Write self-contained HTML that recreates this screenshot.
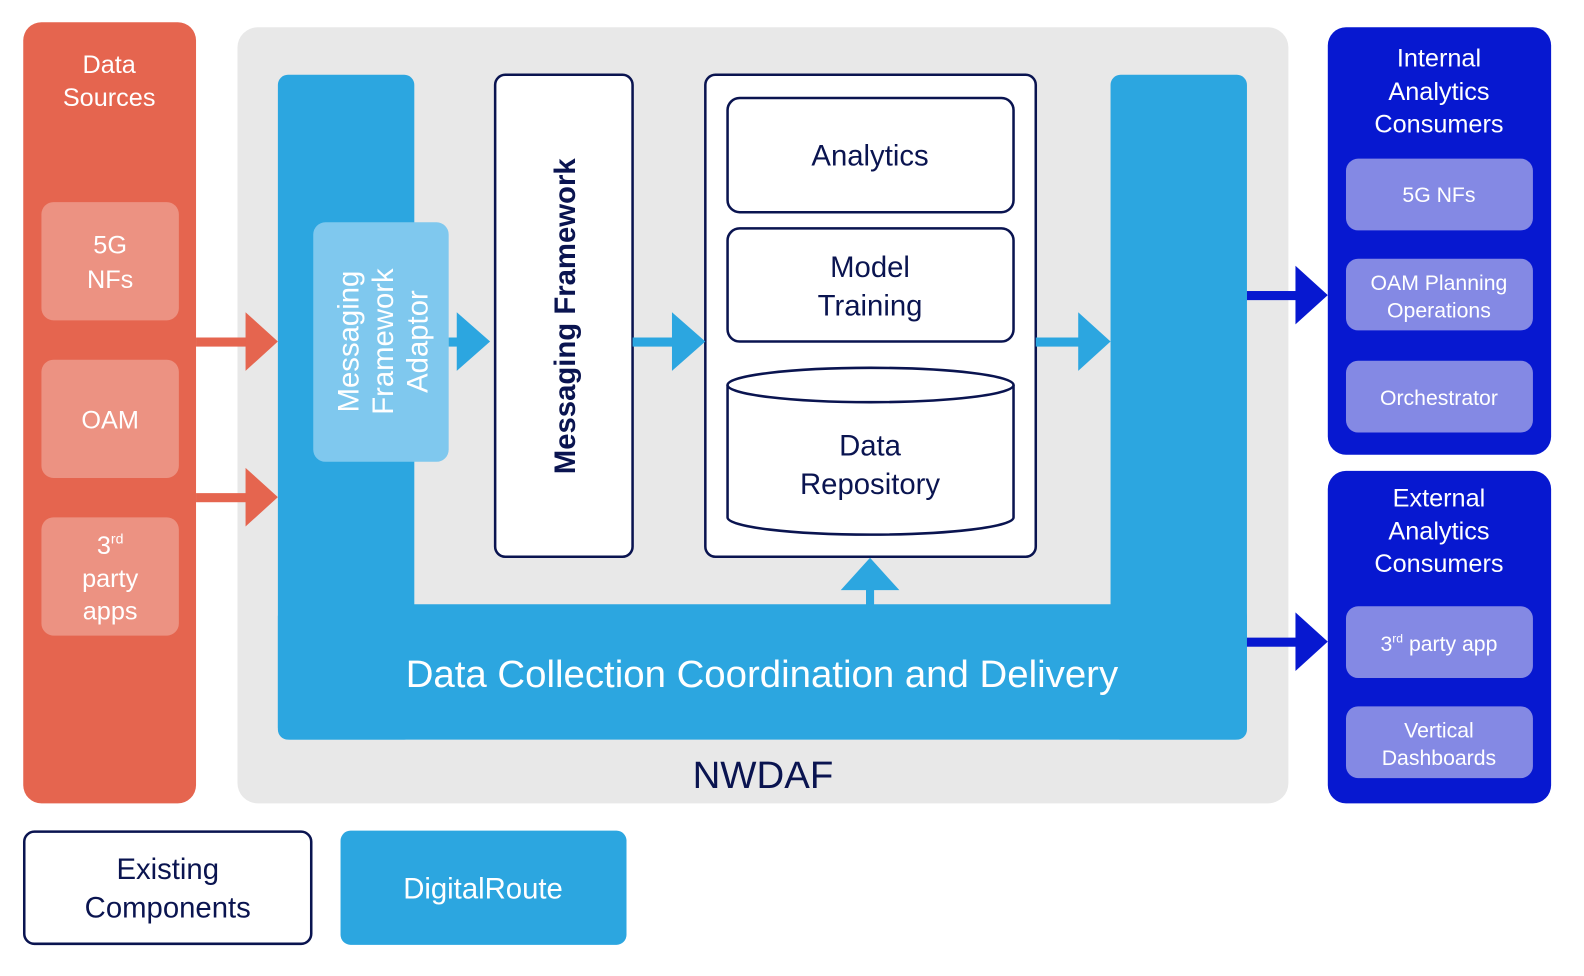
<!DOCTYPE html>
<html><head><meta charset="utf-8"><style>
html,body{margin:0;padding:0;background:#fff;overflow:hidden;}
svg{display:block;font-family:"Liberation Sans",sans-serif;}
</style></head><body>
<svg width="1584" height="976" viewBox="0 0 1584 976" xmlns="http://www.w3.org/2000/svg">
<g transform="scale(1.0105)">
<!-- Data sources -->
<rect x="23" y="22" width="171" height="773" rx="18" fill="#E5654F"/>
<text x="108" y="72" font-size="25" fill="#fff" text-anchor="middle">Data</text>
<text x="108" y="105" font-size="25" fill="#fff" text-anchor="middle">Sources</text>
<g fill="#EC9282">
<rect x="41" y="200" width="136" height="117" rx="12"/>
<rect x="41" y="356" width="136" height="117" rx="12"/>
<rect x="41" y="512" width="136" height="117" rx="12"/>
</g>
<g fill="#fff" font-size="25" text-anchor="middle">
<text x="109" y="251">5G</text><text x="109" y="285">NFs</text>
<text x="109" y="424">OAM</text>
<text x="109" y="548">3<tspan font-size="14" dy="-10">rd</tspan></text>
<text x="109" y="581">party</text><text x="109" y="613">apps</text>
</g>
<!-- NWDAF gray -->
<rect x="235" y="27" width="1040" height="768" rx="20" fill="#E8E8E8"/>
<text x="755" y="780" font-size="38" fill="#0A1450" text-anchor="middle">NWDAF</text>
<!-- blue U -->
<g fill="#2CA6E0">
<rect x="275" y="74" width="135" height="658" rx="10"/>
<rect x="1099" y="74" width="135" height="658" rx="10"/>
<rect x="275" y="598" width="959" height="134" rx="12"/>
</g>
<text x="754" y="680" font-size="38" fill="#fff" text-anchor="middle">Data Collection Coordination and Delivery</text>
<!-- adaptor -->
<rect x="310" y="220" width="134" height="237" rx="12" fill="#7FC8EE"/>
<g transform="translate(377,338) rotate(-90)" font-size="29" fill="#fff" text-anchor="middle">
<text x="0" y="-22">Messaging</text>
<text x="0" y="12">Framework</text>
<text x="0" y="46">Adaptor</text>
</g>
<!-- messaging framework -->
<rect x="490" y="74" width="136" height="477" rx="10" fill="#fff" stroke="#0A1450" stroke-width="2.5"/>
<text transform="translate(569,313) rotate(-90)" font-size="29" font-weight="bold" fill="#0A1450" text-anchor="middle">Messaging Framework</text>
<!-- analytics container -->
<rect x="698" y="74" width="327" height="477" rx="10" fill="#fff" stroke="#0A1450" stroke-width="2.5"/>
<rect x="720" y="97" width="283" height="113" rx="12" fill="#fff" stroke="#0A1450" stroke-width="2.5"/>
<text x="861" y="164" font-size="29" fill="#0A1450" text-anchor="middle">Analytics</text>
<rect x="720" y="226" width="283" height="112" rx="12" fill="#fff" stroke="#0A1450" stroke-width="2.5"/>
<text x="861" y="274" font-size="29" fill="#0A1450" text-anchor="middle">Model</text>
<text x="861" y="312" font-size="29" fill="#0A1450" text-anchor="middle">Training</text>
<path d="M720 381 L720 512 A141 17 0 0 0 1003 512 L1003 381" fill="#fff" stroke="#0A1450" stroke-width="2.5"/>
<ellipse cx="861.5" cy="381" rx="141.5" ry="17" fill="#fff" stroke="#0A1450" stroke-width="2.5"/>
<text x="861" y="451" font-size="29" fill="#0A1450" text-anchor="middle">Data</text>
<text x="861" y="489" font-size="29" fill="#0A1450" text-anchor="middle">Repository</text>
<!-- up arrow -->
<rect x="857" y="580" width="8" height="20" fill="#2CA6E0"/>
<polygon points="832,584 890,584 861,552" fill="#2CA6E0"/>
<!-- orange arrows -->
<g fill="#E5654F">
<rect x="194" y="334" width="52" height="9"/>
<polygon points="243,309 275,338 243,367"/>
<rect x="194" y="488" width="52" height="9"/>
<polygon points="243,463 275,492 243,521"/>
</g>
<!-- blue arrows -->
<g fill="#2CA6E0">
<rect x="444" y="334" width="12" height="9"/>
<polygon points="452,309 485,338 452,367"/>
<rect x="626" y="334" width="42" height="9"/>
<polygon points="665,309 698,338 665,367"/>
<rect x="1025" y="334" width="45" height="9"/>
<polygon points="1067,309 1099,338 1067,367"/>
</g>
<!-- dark blue arrows -->
<g fill="#0718D0">
<rect x="1234" y="288" width="52" height="9"/>
<polygon points="1282,263 1314,292 1282,321"/>
<rect x="1234" y="631" width="52" height="9"/>
<polygon points="1282,606 1314,635 1282,664"/>
</g>
<!-- consumers -->
<rect x="1314" y="27" width="221" height="423" rx="18" fill="#0718D0"/>
<rect x="1314" y="466" width="221" height="329" rx="18" fill="#0718D0"/>
<g fill="#fff" font-size="25" text-anchor="middle">
<text x="1424" y="66">Internal</text><text x="1424" y="99">Analytics</text><text x="1424" y="131">Consumers</text>
<text x="1424" y="501">External</text><text x="1424" y="534">Analytics</text><text x="1424" y="566">Consumers</text>
</g>
<g fill="#8489E4">
<rect x="1332" y="157" width="185" height="71" rx="12"/>
<rect x="1332" y="256" width="185" height="71" rx="12"/>
<rect x="1332" y="357" width="185" height="71" rx="12"/>
<rect x="1332" y="600" width="185" height="71" rx="12"/>
<rect x="1332" y="699" width="185" height="71" rx="12"/>
</g>
<g fill="#fff" font-size="21" text-anchor="middle">
<text x="1424" y="200">5G NFs</text>
<text x="1424" y="287">OAM Planning</text><text x="1424" y="314">Operations</text>
<text x="1424" y="401">Orchestrator</text>
<text x="1424" y="644">3<tspan font-size="12" dy="-8">rd</tspan><tspan dy="8"> party app</tspan></text>
<text x="1424" y="730">Vertical</text><text x="1424" y="757">Dashboards</text>
</g>
<!-- legend -->
<rect x="24" y="823" width="284" height="111" rx="10" fill="#fff" stroke="#0A1450" stroke-width="2.5"/>
<text x="166" y="870" font-size="29" fill="#0A1450" text-anchor="middle">Existing</text>
<text x="166" y="908" font-size="29" fill="#0A1450" text-anchor="middle">Components</text>
<rect x="337" y="822" width="283" height="113" rx="10" fill="#2CA6E0"/>
<text x="478" y="889" font-size="29" fill="#fff" text-anchor="middle">DigitalRoute</text>
</g>
</svg>
</body></html>
